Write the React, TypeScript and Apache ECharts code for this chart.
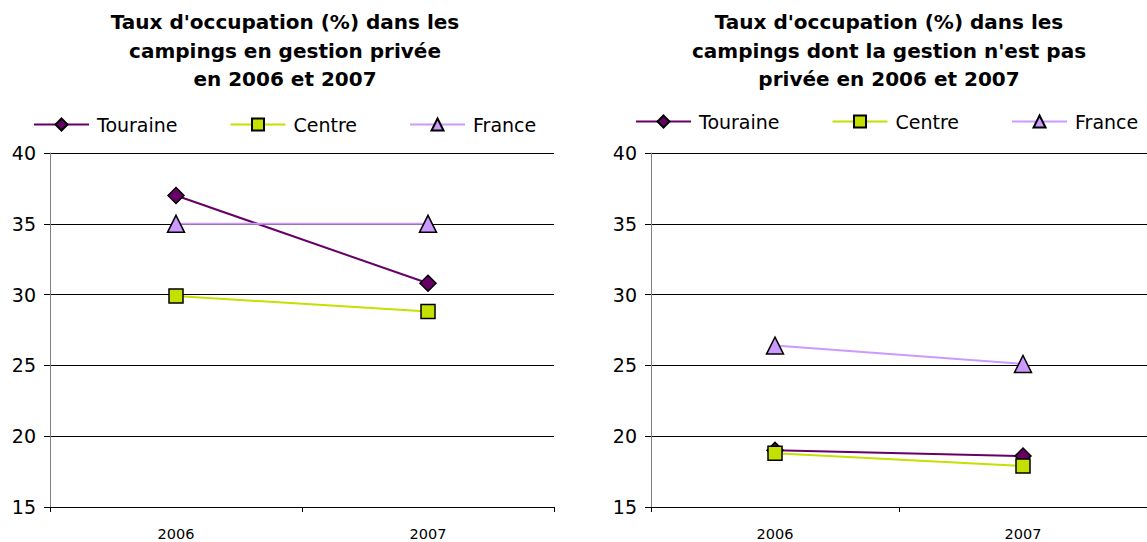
import React, { useEffect, useRef } from "react";
import * as echarts from "echarts";

const years = ["2006", "2007"];
const seriesNames = ["Touraine", "Centre", "France"];

// Left chart: private management
const privTouraine = [37.0, 30.8];
const privCentre = [29.9, 28.8];
const privFrance = [35.0, 35.0];

// Right chart: non-private management
const pubTouraine = [19.0, 18.6];
const pubCentre = [18.8, 17.9];
const pubFrance = [26.4, 25.1];

const yTicks = { min: 15, max: 40, interval: 5 };

const titleLeft = "Taux d'occupation (%) dans les\ncampings en gestion privée\nen 2006 et 2007";
const titleRight = "Taux d'occupation (%) dans les\ncampings dont la gestion n'est pas\nprivée en 2006 et 2007";

const colors = ["#660066", "#C4E000", "#CC99FF"];
const symbols = ["diamond", "rect", "triangle"];
const symbolSizes = [16, 14, 17];

const FONT = "DejaVu Sans";

export default function App() {
  const ref = useRef<HTMLDivElement>(null);
  useEffect(() => {
    if (!ref.current) return;
    const chart = echarts.init(ref.current, undefined, { renderer: "svg" });

    const grids = [
      { left: 50, top: 153, width: 504, height: 354 },
      { left: 651, top: 153, width: 504, height: 354 },
    ];

    const mkX = (gi: number) => ({
      type: "category",
      gridIndex: gi,
      data: years,
      boundaryGap: true,
      axisLine: { lineStyle: { color: "#000", width: 1 } },
      axisTick: { show: true, length: 5, lineStyle: { color: "#000" } },
      axisLabel: { color: "#000", fontSize: 14.5, fontFamily: FONT, margin: 19 },
    });
    const mkY = (gi: number) => ({
      type: "value",
      gridIndex: gi,
      min: yTicks.min,
      max: yTicks.max,
      interval: yTicks.interval,
      axisLine: { show: true, lineStyle: { color: "#808080", width: 1 } },
      axisTick: { show: true, length: 6, lineStyle: { color: "#000" } },
      splitLine: { show: true, lineStyle: { color: "#000", width: 1 } },
      axisLabel: { color: "#000", fontSize: 19, fontFamily: FONT, margin: 14 },
    });

    const data = [
      [privTouraine, privCentre, privFrance],
      [pubTouraine, pubCentre, pubFrance],
    ];

    const series: any[] = [];
    data.forEach((group, gi) => {
      group.forEach((vals, si) => {
        series.push({
          type: "line",
          name: seriesNames[si],
          xAxisIndex: gi,
          yAxisIndex: gi,
          data: vals,
          symbol: symbols[si],
          symbolSize: symbolSizes[si],
          lineStyle: { color: colors[si], width: 2 },
          itemStyle: { color: colors[si], borderColor: "#000", borderWidth: 1.5 },
          emphasis: { disabled: true },
          legendHoverLink: false,
        });
      });
    });

    const mkLegend = (left: number, top: number) => ({
      left,
      top,
      padding: 0,
      orient: "horizontal",
      itemWidth: 55,
      itemHeight: 15,
      itemGap: 52,
      selectedMode: false,
      data: seriesNames,
      textStyle: { color: "#000", fontSize: 19, fontFamily: FONT, padding: [0, 0, 0, 3] },
    });

    const titleStyle = { fontSize: 20, fontWeight: "bold", fontFamily: FONT, color: "#000", lineHeight: 28.5 };

    chart.setOption({
      animation: false,
      backgroundColor: "#fff",
      title: [
        { text: titleLeft, left: 280, top: 3, textAlign: "center", textStyle: titleStyle },
        { text: titleRight, left: 884, top: 3, textAlign: "center", textStyle: titleStyle },
      ],
      legend: [mkLegend(33, 115), mkLegend(635, 112)],
      grid: grids,
      xAxis: [mkX(0), mkX(1)],
      yAxis: [mkY(0), mkY(1)],
      series,
    });
    return () => chart.dispose();
  }, []);
  return (
    <div
      ref={ref}
      style={{ position: "absolute", left: 0, top: 0, width: 1147, height: 542, background: "#fff" }}
    />
  );
}
